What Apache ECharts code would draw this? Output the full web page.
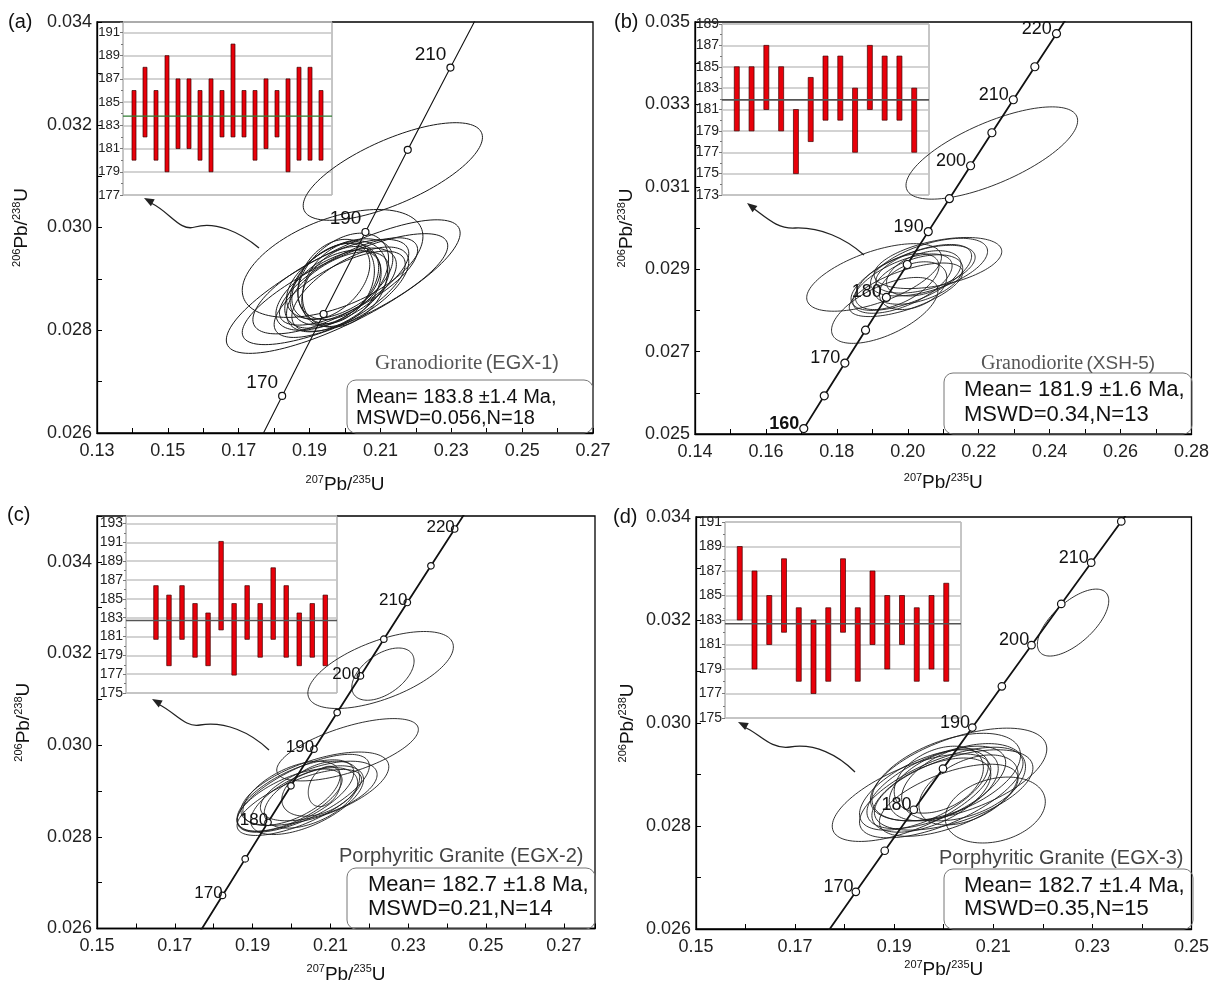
<!DOCTYPE html>
<html><head><meta charset="utf-8">
<script src="https://cdn.jsdelivr.net/npm/echarts@6/dist/echarts.min.js"></script>
<style>html,body{margin:0;padding:0;background:#fff}#c{width:1212px;height:985px}</style>
</head><body><div id="c"></div>
<script>
// ---------- Concordia reference points (age in Ma, 207Pb/235U, 206Pb/238U) ----------
const concordiaAge = [155,160,165,170,175,180,185,190,195,200,205,210,215,220,225];
const concordiaX = [0.16492,0.17067,0.17645,0.18226,0.18809,0.19396,0.19985,0.20577,0.21173,0.21771,0.22372,0.22976,0.23583,0.24193,0.24806];
const concordiaY = [0.024336,0.025131,0.025926,0.026722,0.027519,0.028316,0.029114,0.029912,0.030712,0.031511,0.032312,0.033113,0.033914,0.034716,0.035519];

// ---------- Panel (a) Granodiorite EGX-1 ----------
const markerAgesA = [170,180,190,200,210];
const labelAgesA = [170,190,210];
const ellAx = [0.2135,0.1995,0.1965,0.2000,0.1960,0.1975,0.2010,0.1985,0.1970,0.1990,0.1975,0.2000,0.1965,0.1980,0.1995,0.1960,0.2015,0.1985];
const ellAy = [0.03109,0.02885,0.02930,0.02880,0.02885,0.02880,0.02895,0.02900,0.02890,0.02885,0.02895,0.02890,0.02880,0.02875,0.02905,0.02895,0.02880,0.02870];
const ellAsx = [0.0253,0.0330,0.0255,0.0290,0.0220,0.0170,0.0195,0.0150,0.0125,0.0112,0.0108,0.0120,0.0135,0.0145,0.0128,0.0110,0.0165,0.0185];
const ellAsy = [0.00095,0.00130,0.00105,0.00108,0.00092,0.00080,0.00085,0.00078,0.00080,0.00078,0.00082,0.00084,0.00076,0.00078,0.00084,0.00074,0.00082,0.00084];
const ellArho = [0.70,0.80,0.50,0.78,0.70,0.60,0.72,0.50,0.40,0.35,0.25,0.30,0.50,0.55,0.40,0.45,0.65,0.70];
const barsAlo = [180,182,180,179,181,181,180,179,182,182,182,180,181,182,179,180,180,180];
const barsAhi = [186,188,186,189,187,187,186,187,186,190,186,186,187,186,187,188,188,186];
const meanA = 183.8;

// ---------- Panel (b) Granodiorite XSH-5 ----------
const markerAgesB = [160,165,170,175,180,185,190,195,200,205,210,215,220];
const labelAgesB = [160,170,180,190,200,210,220];
const ellBx = [0.2237,0.1905,0.1935,0.2085,0.2060,0.2010,0.1985,0.2030,0.1995,0.2045,0.1970,0.2015,0.2050];
const ellBy = [0.03182,0.02880,0.02800,0.02915,0.02905,0.02880,0.02865,0.02875,0.02850,0.02890,0.02870,0.02860,0.02900];
const ellBsx = [0.0242,0.0190,0.0150,0.0180,0.0165,0.0170,0.0140,0.0125,0.0160,0.0105,0.0118,0.0095,0.0140];
const ellBsy = [0.00112,0.00082,0.00080,0.00062,0.00070,0.00080,0.00072,0.00060,0.00065,0.00055,0.00068,0.00058,0.00058];
const ellBrho = [0.70,0.60,0.60,0.45,0.55,0.65,0.60,0.45,0.65,0.40,0.55,0.35,0.50];
const barsBlo = [179,179,181,179,175,178,180,180,177,181,180,180,177];
const barsBhi = [185,185,187,185,181,184,186,186,183,187,186,186,183];
const meanB = 181.9;

// ---------- Panel (c) Porphyritic Granite EGX-2 ----------
const markerAgesC = [170,175,180,185,190,195,200,205,210,215,220];
const labelAgesC = [170,180,190,200,210,220];
const ellCx = [0.2229,0.2235,0.2144,0.2030,0.2060,0.2010,0.2040,0.2085,0.2075,0.2000,0.2050,0.2020,0.2070,0.1995];
const ellCy = [0.03164,0.03155,0.02990,0.02895,0.02905,0.02890,0.02880,0.02910,0.02905,0.02895,0.02885,0.02875,0.02900,0.02880];
const ellCsx = [0.0187,0.0080,0.0182,0.0170,0.0190,0.0150,0.0145,0.0042,0.0100,0.0125,0.0120,0.0160,0.0150,0.0135];
const ellCsy = [0.00084,0.00057,0.00068,0.00085,0.00080,0.00078,0.00075,0.00044,0.00060,0.00070,0.00066,0.00072,0.00065,0.00068];
const ellCrho = [0.60,0.50,0.65,0.70,0.60,0.65,0.60,0.30,0.40,0.55,0.50,0.70,0.55,0.65];
const barsClo = [180.7,177.9,180.7,178.8,177.9,181.7,176.9,180.7,178.8,180.7,178.8,177.9,178.8,177.9];
const barsChi = [186.4,185.4,186.4,184.5,183.5,191.1,184.5,186.4,184.5,188.3,186.4,183.5,184.5,185.4];
const meanC = 182.7;

// ---------- Panel (d) Porphyritic Granite EGX-3 ----------
const markerAgesD = [170,175,180,185,190,195,200,205,210,215];
const labelAgesD = [170,180,190,200,210];
const ellDx = [0.2261,0.2104,0.1935,0.2030,0.2005,0.1985,0.2020,0.1975,0.2000,0.2040,0.1960,0.2010,0.1990,0.2050,0.1995];
const ellDy = [0.03195,0.02831,0.02855,0.02900,0.02895,0.02875,0.02870,0.02860,0.02880,0.02885,0.02870,0.02850,0.02890,0.02870,0.02865];
const ellDsx = [0.0072,0.0101,0.0160,0.0178,0.0150,0.0140,0.0160,0.0120,0.0110,0.0125,0.0130,0.0140,0.0090,0.0100,0.0165];
const ellDsy = [0.00065,0.00064,0.00085,0.00090,0.00085,0.00080,0.00078,0.00072,0.00070,0.00075,0.00078,0.00070,0.00065,0.00068,0.00088];
const ellDrho = [0.65,0.25,0.65,0.55,0.50,0.60,0.55,0.55,0.45,0.40,0.60,0.60,0.35,0.45,0.65];
const barsDlo = [183,179,181,182,178,177,178,182,178,181,179,181,178,179,178];
const barsDhi = [189,187,185,188,184,183,184,188,184,187,185,185,184,185,186];
const meanD = 182.7;

// ---------- Texts ----------
const panelLetters = ['(a)','(b)','(c)','(d)'];
const sampleRock = ['Granodiorite','Granodiorite','Porphyritic Granite','Porphyritic Granite'];
const sampleId = ['(EGX-1)','(XSH-5)','(EGX-2)','(EGX-3)'];
const meanLines = ['Mean= 183.8 ±1.4 Ma,','Mean= 181.9 ±1.6 Ma,','Mean= 182.7 ±1.8 Ma,','Mean= 182.7 ±1.4 Ma,'];
const mswdLines = ['MSWD=0.056,N=18','MSWD=0.34,N=13','MSWD=0.21,N=14','MSWD=0.35,N=15'];

const FONT = "'Liberation Sans', Arial, Helvetica, sans-serif";
const SERIF = "'Liberation Serif', 'Times New Roman', serif";

// ---------- Layout (positions/styles only) ----------
const P = [
 {id:'a', ex:ellAx, ey:ellAy, esx:ellAsx, esy:ellAsy, er:ellArho, mk:markerAgesA, lb:labelAgesA, lo:barsAlo, hi:barsAhi, mean:meanA,
  grid:{left:97,top:22,width:496,height:411}, xr:[0.13,0.27], yr:[0.026,0.034], xMaxLbl:true, yMaxLbl:true, xGap:41, yGap:64,
  inset:{left:123,top:22,width:209,height:173}, ixr:[0,19], iyr:[177,191.9], iyMaxLbl:false, ifont:13, barW:4,
  concW:1.1, mkSize:7, lbFont:19, lbDist:0, lbOff:[0,-13], meanColor:'#2f7d32', meanW:1.2, ellW:1,
  label:[8,22], rock:[375,363], rockF:21, box:[347,380,246,53], meanTxt:[356,397,418], mFont:20, serifRock:true},
 {id:'b', ex:ellBx, ey:ellBy, esx:ellBsx, esy:ellBsy, er:ellBrho, mk:markerAgesB, lb:labelAgesB, lo:barsBlo, hi:barsBhi, mean:meanB,
  grid:{left:695,top:22,width:497,height:412}, xr:[0.14,0.28], yr:[0.025,0.035], xMaxLbl:true, yMaxLbl:true, xGap:38, yGap:57,
  inset:{left:722,top:24,width:207,height:171}, ixr:[0,14], iyr:[173,189], iyMaxLbl:true, ifont:14, barW:5,
  concW:1.8, mkSize:8, lbFont:18, lbDist:0, lbOff:[0,-5], meanColor:'#555', meanW:1.6, ellW:0.9,
  label:[614,22], rock:[981,364], rockF:20, box:[944,373,248,61], meanTxt:[964,390,415], mFont:22, serifRock:true},
 {id:'c', ex:ellCx, ey:ellCy, esx:ellCsx, esy:ellCsy, er:ellCrho, mk:markerAgesC, lb:labelAgesC, lo:barsClo, hi:barsChi, mean:meanC,
  grid:{left:97,top:516,width:498,height:413}, xr:[0.15,0.278], yr:[0.026,0.035], xMaxLbl:false, yMaxLbl:false, xGap:35, yGap:62,
  inset:{left:126,top:516,width:211,height:177}, ixr:[-1.3,14.9], iyr:[175,193.8], iyMaxLbl:false, ifont:14, barW:4.5,
  concW:1.8, mkSize:6.5, lbFont:17, lbDist:-4, lbOff:[0,-2], meanColor:'#555', meanW:1.6, ellW:0.9,
  label:[7,515], rock:[339,856], rockF:20, box:[347,868,248,61], meanTxt:[368,885,909], mFont:22, serifRock:false},
 {id:'d', ex:ellDx, ey:ellDy, esx:ellDsx, esy:ellDsy, er:ellDrho, mk:markerAgesD, lb:labelAgesD, lo:barsDlo, hi:barsDhi, mean:meanD,
  grid:{left:696,top:517,width:497,height:412}, xr:[0.15,0.25], yr:[0.026,0.034], xMaxLbl:true, yMaxLbl:true, xGap:30, yGap:57,
  inset:{left:725,top:522,width:236,height:196}, ixr:[0,16], iyr:[175,191], iyMaxLbl:true, ifont:14, barW:5,
  concW:1.8, mkSize:7.5, lbFont:18, lbDist:-2, lbOff:[0,-5], meanColor:'#555', meanW:1.6, ellW:0.9,
  label:[613,517], rock:[939,858], rockF:20, box:[944,869,249,60], meanTxt:[964,886,909], mFont:22, serifRock:false}
];

// arrows: [tail, cp1, cp2, mid, cp3, cp4, end, tip]
const arrows = [
 [[259,248],[240,232],[215,221],[195,227],[180,232],[170,212],[151,203],[144,198]],
 [[864,255],[845,238],[820,227],[795,228],[778,229],[768,219],[753,208],[747,203]],
 [[269,750],[250,732],[225,721],[200,725],[185,728],[175,712],[158,704],[152,699]],
 [[855,772],[838,755],[815,743],[790,747],[770,750],[758,732],[744,727],[738,722]]
];

const nameRich = {
  s:{fontSize:11, fontFamily:FONT, color:'#111', verticalAlign:'top'},
  n:{fontSize:19, lineHeight:22, fontFamily:FONT, color:'#111'}
};

const grids=[], xAxes=[], yAxes=[], series=[], graphics=[];

P.forEach((p,k)=>{
  grids[k] = Object.assign({show:true, borderColor:'#000', borderWidth:1.3, containLabel:false, backgroundColor:'transparent'}, p.grid);
  grids[k+4] = Object.assign({show:true, borderColor:'#8c8c8c', borderWidth:1, containLabel:false, backgroundColor:'transparent'}, p.inset);

  xAxes[k] = {gridIndex:k, type:'value', min:p.xr[0], max:p.xr[1], interval:0.02,
    axisLine:{show:true, onZero:false, lineStyle:{color:'#000', width:1.3}},
    axisTick:{show:true, inside:true, length:5, lineStyle:{color:'#000', width:1}},
    minorTick:{show:true, splitNumber:2, length:5, lineStyle:{color:'#000', width:1}},
    splitLine:{show:false},
    axisLabel:{fontSize:18, color:'#222', fontFamily:FONT, margin:9, showMaxLabel:p.xMaxLbl, formatter:v=>v.toFixed(2)},
    name:'{s|207}{n|Pb/}{s|235}{n|U}', nameLocation:'middle', nameGap:p.xGap, nameTextStyle:{rich:nameRich}};
  yAxes[k] = {gridIndex:k, type:'value', min:p.yr[0], max:p.yr[1], interval:0.002,
    axisLine:{show:true, onZero:false, lineStyle:{color:'#000', width:1.3}},
    axisTick:{show:true, inside:true, length:5, lineStyle:{color:'#000', width:1}},
    minorTick:{show:true, splitNumber:2, length:5, lineStyle:{color:'#000', width:1}},
    splitLine:{show:false},
    axisLabel:{fontSize:18, color:'#222', fontFamily:FONT, margin:5, showMaxLabel:p.yMaxLbl, formatter:v=>v.toFixed(3)},
    name:'{s|206}{n|Pb/}{s|238}{n|U}', nameLocation:'middle', nameGap:p.yGap, nameTextStyle:{rich:nameRich}};

  xAxes[k+4] = {gridIndex:k+4, type:'value', min:p.ixr[0], max:p.ixr[1], show:false, axisLine:{onZero:false}, splitLine:{show:false}};
  yAxes[k+4] = {gridIndex:k+4, type:'value', min:p.iyr[0], max:p.iyr[1], interval:2,
    axisLine:{show:false, onZero:false},
    axisTick:{show:true, length:3, lineStyle:{color:'#777'}},
    minorTick:{show:true, splitNumber:2, length:2, lineStyle:{color:'#777'}},
    splitLine:{show:true, lineStyle:{color:'#c4c4c4', width:1.5}},
    axisLabel:{fontSize:p.ifont, color:'#222', fontFamily:FONT, margin:3, showMaxLabel:p.iyMaxLbl}};

  // ellipses
  series.push({type:'custom', xAxisIndex:k, yAxisIndex:k, clip:true, silent:true, z:3, animation:false,
    dimensions:['x','y','sx','sy','rho'], encode:{x:0, y:1},
    data:p.ex.map((v,i)=>[v, p.ey[i], p.esx[i], p.esy[i], p.er[i]]),
    renderItem(params, api){
      const cx=api.value(0), cy=api.value(1), sx=api.value(2), sy=api.value(3), r=api.value(4);
      const q=Math.sqrt(1-r*r); const pts=[];
      for(let j=0;j<=120;j++){const t=j/120*2*Math.PI; pts.push(api.coord([cx+sx*Math.cos(t), cy+sy*(r*Math.cos(t)+q*Math.sin(t))]));}
      return {type:'polyline', shape:{points:pts}, style:{stroke:'#1a1a1a', fill:null, lineWidth:p.ellW}};
    }});
  // concordia line
  series.push({type:'line', xAxisIndex:k, yAxisIndex:k, silent:true, z:4, animation:false, clip:true,
    symbol:'none', showSymbol:false, lineStyle:{color:'#111', width:p.concW},
    data:concordiaX.map((x,i)=>[x, concordiaY[i]]).filter((d,i)=>concordiaAge[i]>=160)});
  // age markers
  series.push({type:'scatter', xAxisIndex:k, yAxisIndex:k, silent:true, z:5, animation:false,
    symbol:'circle', symbolSize:p.mkSize, itemStyle:{color:'#fff', borderColor:'#111', borderWidth:1.2, opacity:1},
    label:{show:false, position:'left', distance:p.lbDist, offset:p.lbOff, fontSize:p.lbFont, color:'#111', fontFamily:FONT},
    data:p.mk.map(age=>{const i=concordiaAge.indexOf(age); return {value:[concordiaX[i], concordiaY[i]],
      label:{show:p.lb.includes(age), formatter:String(age), fontWeight:(p.id==='b'&&age===160)?'bold':'normal'}};})});
  // inset bars
  series.push({type:'custom', xAxisIndex:k+4, yAxisIndex:k+4, silent:true, z:4, animation:false,
    encode:{x:0, y:[1,2]},
    data:p.lo.map((v,i)=>[i+1, v, p.hi[i]]),
    renderItem(params, api){
      const a=api.coord([api.value(0), api.value(2)]), b=api.coord([api.value(0), api.value(1)]);
      const w=p.barW;
      return {type:'rect', shape:{x:a[0]-w/2, y:a[1], width:w, height:b[1]-a[1]}, style:{fill:'#e8000a', stroke:'#3d0000', lineWidth:0.7}};
    }});
  // mean line
  series.push({type:'line', xAxisIndex:k+4, yAxisIndex:k+4, silent:true, z:5, animation:false,
    symbol:'none', lineStyle:{color:p.meanColor, width:p.meanW},
    data:[[p.ixr[0], p.mean],[p.ixr[1], p.mean]]});

  // graphics: panel letter
  graphics.push({type:'text', z:60, style:{text:panelLetters[k], x:p.label[0], y:p.label[1], fontSize:20, fontFamily:FONT, fill:'#111', align:'left', verticalAlign:'middle'}});
  // rock name
  if (p.serifRock) {
    graphics.push({type:'text', z:60, style:{text:'{r|'+sampleRock[k]+'} {i|'+sampleId[k]+'}', x:p.rock[0], y:p.rock[1], align:'left', verticalAlign:'middle',
      rich:{r:{fontFamily:SERIF, fontSize:p.rockF, fill:'#555', color:'#555'}, i:{fontFamily:FONT, fontSize:p.rockF-1, fill:'#555', color:'#555'}}}});
  } else {
    graphics.push({type:'text', z:60, style:{text:sampleRock[k]+' '+sampleId[k], x:p.rock[0], y:p.rock[1], fontSize:p.rockF, fontFamily:FONT, fill:'#444', align:'left', verticalAlign:'middle'}});
  }
  // rounded box
  graphics.push({type:'rect', z:55, shape:{x:p.box[0], y:p.box[1], width:p.box[2], height:p.box[3], r:9}, style:{fill:'rgba(255,255,255,0)', stroke:'#777', lineWidth:1}});
  graphics.push({type:'text', z:60, style:{text:meanLines[k], x:p.meanTxt[0], y:p.meanTxt[1], fontSize:p.mFont, fontFamily:FONT, fill:'#111', align:'left', verticalAlign:'middle'}});
  graphics.push({type:'text', z:60, style:{text:mswdLines[k], x:p.meanTxt[0], y:p.meanTxt[2], fontSize:p.mFont, fontFamily:FONT, fill:'#111', align:'left', verticalAlign:'middle'}});

  // arrow
  const a = arrows[k];
  graphics.push({type:'bezierCurve', z:58, shape:{x1:a[0][0], y1:a[0][1], cpx1:a[1][0], cpy1:a[1][1], cpx2:a[2][0], cpy2:a[2][1], x2:a[3][0], y2:a[3][1]}, style:{stroke:'#222', lineWidth:1.3, fill:null}});
  graphics.push({type:'bezierCurve', z:58, shape:{x1:a[3][0], y1:a[3][1], cpx1:a[4][0], cpy1:a[4][1], cpx2:a[5][0], cpy2:a[5][1], x2:a[6][0], y2:a[6][1]}, style:{stroke:'#222', lineWidth:1.3, fill:null}});
  const tip=a[7], from=a[5];
  let dx=tip[0]-from[0], dy=tip[1]-from[1]; const L=Math.hypot(dx,dy); dx/=L; dy/=L;
  const bx=tip[0]-dx*10, by=tip[1]-dy*10, px=-dy, py=dx;
  graphics.push({type:'polygon', z:59, shape:{points:[[tip[0],tip[1]],[bx+px*4,by+py*4],[bx-px*4,by-py*4]]}, style:{fill:'#222'}});
});

const chart = echarts.init(document.getElementById('c'), null, {renderer:'canvas', width:1212, height:985});
chart.setOption({
  animation:false,
  backgroundColor:'#fff',
  grid:grids, xAxis:xAxes, yAxis:yAxes, series:series, graphic:graphics
});
</script></body></html>
